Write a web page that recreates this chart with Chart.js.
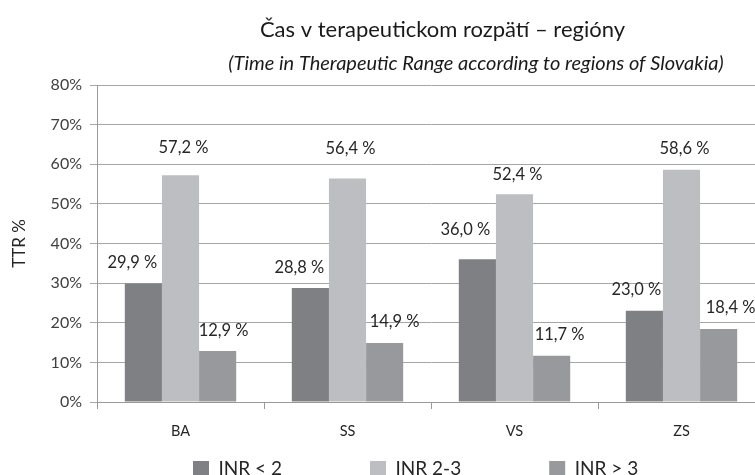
<!DOCTYPE html>
<html>
<head>
<meta charset="utf-8">
<script src="https://cdn.jsdelivr.net/npm/chart.js@4.4.0/dist/chart.umd.min.js"></script>
<style>
html, body { margin: 0; padding: 0; overflow: hidden; background: #fff; }
</style>
</head>
<body>
<canvas id="graf" width="765" height="475"></canvas>
<script>
// data
const regiony = ["BA", "SS", "VS", "ZS"];
const inrPod2 = [29.9, 28.8, 36.0, 23.0];
const inr2az3 = [57.2, 56.4, 52.4, 58.6];
const inrNad3 = [12.9, 14.9, 11.7, 18.4];
const nazvySerii = ["INR < 2", "INR 2-3", "INR > 3"];
const osY = { min: 0, max: 80, krok: 10 };

const nadpis = "Čas v terapeutickom rozpätí – regióny";
const podnadpis = "(Time in Therapeutic Range according to regions of Slovakia)";

// posun popiskov oproti vrchu stlpca (px)
const posunX = [[-11, -11, -12, -8], [3, 3, 3, 3], [6, 10, 8, 12]];
const posunY = [[21, 20, 30, 21], [28, 30, 20, 21], [20, 21, 21, 21]];

const popisky = {
  id: 'popisky',
  afterDatasetsDraw(chart) {
    const ctx = chart.ctx;
    ctx.save();
    ctx.font = '16.5px Lato';
    ctx.fillStyle = '#262626';
    ctx.textAlign = 'center';
    ctx.textBaseline = 'middle';
    chart.data.datasets.forEach((ds, i) => {
      chart.getDatasetMeta(i).data.forEach((bar, j) => {
        const txt = ds.data[j].toFixed(1).replace('.', ',') + ' %';
        ctx.fillText(txt, bar.x + posunX[i][j], bar.y - posunY[i][j]);
      });
    });
    ctx.restore();
  }
};

// nadpisy a legenda nie su v strede platna, tak ich posunieme
const posun = {
  id: 'posun',
  afterLayout(chart) {
    chart.boxes.forEach(b => {
      if (!b.options) return;
      let dx = 0;
      if (b.options.text === nadpis) dx = 442.5 - (b.left + b.right) / 2;
      if (b.options.text === podnadpis) dx = 476 - (b.left + b.right) / 2;
      b.left += dx;
      b.right += dx;
    });
    const lg = chart.legend;
    const pad = lg.options.labels.padding;
    const start = (lg.left + pad + lg.right - lg.lineWidths[0]) / 2;
    const dx = 193 - start;
    lg.left += dx;
    lg.right += dx;
    const fs = lg.options.labels.font.size;
    lg.top = 469 - pad - fs / 2;
    lg.bottom = chart.height + 10;
    lg.height = lg.bottom - lg.top;
  }
};

new Chart(document.getElementById("graf"), {
  type: "bar",
  data: {
    labels: regiony,
    datasets: [
      { label: nazvySerii[0], data: inrPod2, backgroundColor: "#7f8084" },
      { label: nazvySerii[1], data: inr2az3, backgroundColor: "#bdbec2" },
      { label: nazvySerii[2], data: inrNad3, backgroundColor: "#98999d" }
    ]
  },
  options: {
    responsive: false,
    animation: false,
    datasets: {
      bar: { barPercentage: 1, categoryPercentage: 0.667 }
    },
    layout: { padding: 0 },
    plugins: {
      title: {
        display: true,
        text: nadpis,
        color: '#1a1a1a',
        font: { family: 'Lato', size: 22, weight: 'normal', lineHeight: 1.2 },
        padding: { top: 17, bottom: 0 }
      },
      subtitle: {
        display: true,
        text: podnadpis,
        color: '#1a1a1a',
        font: { family: 'Lato', size: 20, style: 'italic', lineHeight: 1.2 },
        padding: { top: 8, bottom: 9.6 }
      },
      legend: {
        position: 'bottom',
        maxHeight: 31,
        labels: {
          boxWidth: 16,
          boxHeight: 16,
          padding: 88,
          color: '#262626',
          font: { family: 'Lato', size: 19 }
        }
      },
      tooltip: { enabled: false }
    },
    scales: {
      x: {
        afterFit(scale) { scale.height = 42; },
        grid: {
          offset: true,
          drawOnChartArea: false,
          drawTicks: true,
          tickLength: 7,
          color: '#999'
        },
        border: { color: '#999' },
        ticks: {
          padding: 14,
          color: '#262626',
          font: { family: 'Lato', size: 14.5 }
        }
      },
      y: {
        min: osY.min,
        max: osY.max,
        afterFit(scale) { scale.width = 97; },
        title: {
          display: true,
          text: 'TTR %',
          color: '#262626',
          font: { family: 'Lato', size: 17 },
          padding: { top: 9, bottom: 0 }
        },
        grid: {
          color: '#a6a6a6',
          drawTicks: true,
          tickLength: 7
        },
        border: { color: '#999' },
        ticks: {
          stepSize: osY.krok,
          padding: 8,
          color: '#404040',
          font: { family: 'Lato', size: 16 },
          callback: v => v + '%'
        }
      }
    }
  },
  plugins: [popisky, posun]
});
</script>
</body>
</html>
